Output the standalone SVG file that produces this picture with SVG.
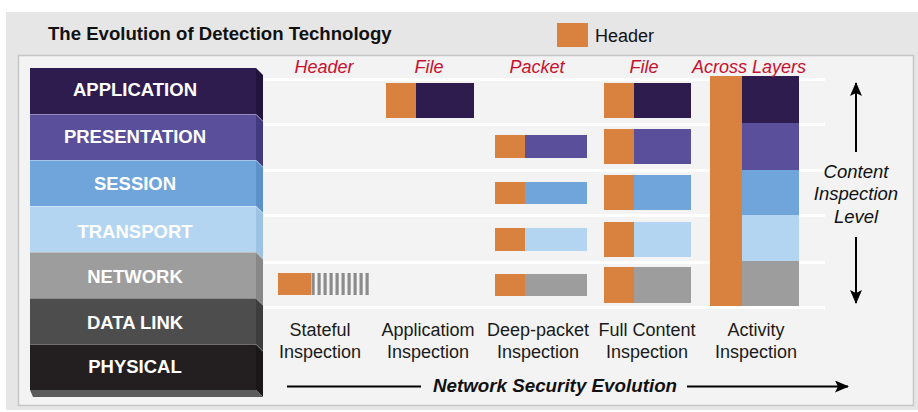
<svg xmlns="http://www.w3.org/2000/svg" width="918" height="412" viewBox="0 0 918 412">
  <defs>
    <style>
      .sans { font-family: "Liberation Sans", Arial, sans-serif; }
      .layer-label { font-family: "Liberation Sans", Arial, sans-serif; font-weight: bold; font-size: 18.5px; fill: #ffffff; text-anchor: middle; }
      .col-head { font-family: "Liberation Sans", Arial, sans-serif; font-style: italic; font-size: 18px; fill: #c8102e; text-anchor: middle; }
      .col-name { font-family: "Liberation Sans", Arial, sans-serif; font-size: 18px; fill: #1a1a1a; text-anchor: middle; }
      .edge-line { fill: none; stroke: rgba(255,255,255,0.35); stroke-width: 1; }
      .stripe { fill: #ffffff; }
      .hdr { fill: #d9823f; }
      .c-app { fill: #2e1c4f; }
      .c-pre { fill: #5a4f9b; }
      .c-ses { fill: #6fa5da; }
      .c-tra { fill: #b3d5f1; }
      .c-net { fill: #9d9d9d; }
      .arrow { stroke: #000000; stroke-width: 2; fill: none; }
    </style>
    <pattern id="hatch" x="311" y="0" width="6" height="10" patternUnits="userSpaceOnUse">
      <rect x="0" y="0" width="6" height="10" fill="#f4f4f4"/>
      <rect x="0.5" y="0" width="3.2" height="10" fill="#8c8c8c"/>
    </pattern>
    <marker id="head" viewBox="0 0 14 12" refX="13" refY="6" markerWidth="14" markerHeight="12" markerUnits="userSpaceOnUse" orient="auto">
      <path d="M0,0 L14,6 L0,12 L3,6 Z" fill="#000000"/>
    </marker>
  </defs>

  <!-- panel background -->
  <rect x="0" y="0" width="918" height="412" fill="#ffffff"/>
  <rect x="6" y="12" width="912" height="398" fill="#e7e6e7"/>
  <rect x="18.5" y="55.5" width="895" height="350" fill="#f3f3f3" stroke="#c6c6c6" stroke-width="1.5"/>

  <!-- title and legend -->
  <text class="sans" x="48" y="40" font-size="18.6" font-weight="bold" fill="#111111">The Evolution of Detection Technology</text>
  <g id="legend">
    <rect class="hdr" x="557" y="23" width="31" height="24"/>
    <text class="sans" x="595" y="42" font-size="18" fill="#111111">Header</text>
  </g>

  <!-- row stripes behind the inspection columns -->
  <g id="rows">
    <rect class="stripe" x="264" y="78" width="561" height="3"/>
    <rect class="stripe" x="264" y="123" width="561" height="3"/>
    <rect class="stripe" x="264" y="169" width="561" height="3"/>
    <rect class="stripe" x="264" y="214" width="561" height="3"/>
    <rect class="stripe" x="264" y="261" width="561" height="3"/>
    <rect class="stripe" x="264" y="306" width="561" height="3"/>
  </g>

  <!-- OSI layer stack -->
  <g id="layer-application">
    <rect x="30" y="68" width="226" height="46" fill="#2e1c4f"/>
    <polygon points="256,68 263,75 263,121 256,114" fill="#22143d"/>
    <text class="layer-label" x="135" y="96">APPLICATION</text>
  </g>
  <g id="layer-presentation">
    <rect x="30" y="114" width="226" height="46" fill="#5a4f9b"/>
    <polygon points="256,114 263,121 263,167 256,160" fill="#43397f"/>
    <path class="edge-line" d="M30,114.5 H256 L263,121.5"/>
    <text class="layer-label" x="135" y="143">PRESENTATION</text>
  </g>
  <g id="layer-session">
    <rect x="30" y="160" width="226" height="46" fill="#6fa5da"/>
    <polygon points="256,160 263,167 263,213 256,206" fill="#5b91c8"/>
    <path class="edge-line" d="M30,160.5 H256 L263,167.5"/>
    <text class="layer-label" x="135" y="190">SESSION</text>
  </g>
  <g id="layer-transport">
    <rect x="30" y="206" width="226" height="46" fill="#b3d5f1"/>
    <polygon points="256,206 263,213 263,259 256,252" fill="#9dc3e4"/>
    <path class="edge-line" d="M30,206.5 H256 L263,213.5"/>
    <text class="layer-label" x="135" y="238">TRANSPORT</text>
  </g>
  <g id="layer-network">
    <rect x="30" y="252" width="226" height="46" fill="#9d9d9d"/>
    <polygon points="256,252 263,259 263,305 256,298" fill="#878787"/>
    <path class="edge-line" d="M30,252.5 H256 L263,259.5"/>
    <text class="layer-label" x="135" y="283">NETWORK</text>
  </g>
  <g id="layer-datalink">
    <rect x="30" y="298" width="226" height="46" fill="#4d4d4d"/>
    <polygon points="256,298 263,305 263,351 256,344" fill="#3d3d3d"/>
    <path class="edge-line" d="M30,298.5 H256 L263,305.5"/>
    <text class="layer-label" x="135" y="329">DATA LINK</text>
  </g>
  <g id="layer-physical">
    <rect x="30" y="344" width="226" height="46" fill="#231f20"/>
    <polygon points="256,344 263,351 263,397 256,390" fill="#1a1718"/>
    <polygon points="30,390 256,390 263,397 33,397" fill="#5b5b5b"/>
    <path class="edge-line" d="M30,344.5 H256 L263,351.5"/>
    <text class="layer-label" x="135" y="373">PHYSICAL</text>
  </g>

  <!-- stateful inspection: header only -->
  <g id="col-stateful">
    <text class="col-head" x="324" y="73">Header</text>
    <rect class="hdr" x="278" y="273" width="33" height="22"/>
    <rect x="311" y="273" width="58" height="22" fill="url(#hatch)"/>
    <text class="col-name" x="320" y="336">Stateful</text>
    <text class="col-name" x="320" y="358">Inspection</text>
  </g>

  <!-- application inspection: file -->
  <g id="col-application">
    <text class="col-head" x="429" y="73">File</text>
    <rect class="hdr" x="386" y="83" width="30" height="35"/>
    <rect class="c-app" x="416" y="83" width="58" height="35"/>
    <text class="col-name" x="428" y="336">Applicatiom</text>
    <text class="col-name" x="428" y="358">Inspection</text>
  </g>

  <!-- deep-packet inspection -->
  <g id="col-deep-packet">
    <text class="col-head" x="537" y="73">Packet</text>
    <rect class="hdr" x="495" y="135" width="30" height="23"/>
    <rect class="c-pre" x="525" y="135" width="62" height="23"/>
    <rect class="hdr" x="495" y="182" width="30" height="22"/>
    <rect class="c-ses" x="525" y="182" width="62" height="22"/>
    <rect class="hdr" x="495" y="228" width="30" height="23"/>
    <rect class="c-tra" x="525" y="228" width="62" height="23"/>
    <rect class="hdr" x="495" y="274" width="30" height="22"/>
    <rect class="c-net" x="525" y="274" width="62" height="22"/>
    <text class="col-name" x="538" y="336">Deep-packet</text>
    <text class="col-name" x="538" y="358">Inspection</text>
  </g>

  <!-- full content inspection -->
  <g id="col-full-content">
    <text class="col-head" x="644" y="73">File</text>
    <rect class="hdr" x="604" y="83" width="30" height="35"/>
    <rect class="c-app" x="634" y="83" width="57" height="35"/>
    <rect class="hdr" x="604" y="129" width="30" height="35"/>
    <rect class="c-pre" x="634" y="129" width="57" height="35"/>
    <rect class="hdr" x="604" y="175" width="30" height="35"/>
    <rect class="c-ses" x="634" y="175" width="57" height="35"/>
    <rect class="hdr" x="604" y="222" width="30" height="35"/>
    <rect class="c-tra" x="634" y="222" width="57" height="35"/>
    <rect class="hdr" x="604" y="267" width="30" height="36"/>
    <rect class="c-net" x="634" y="267" width="57" height="36"/>
    <text class="col-name" x="647" y="336">Full Content</text>
    <text class="col-name" x="647" y="358">Inspection</text>
  </g>

  <!-- activity inspection: across layers -->
  <g id="col-activity">
    <rect class="hdr" x="710" y="76" width="32" height="230"/>
    <rect class="c-app" x="742" y="76" width="57" height="47"/>
    <rect class="c-pre" x="742" y="123" width="57" height="47"/>
    <rect class="c-ses" x="742" y="170" width="57" height="45"/>
    <rect class="c-tra" x="742" y="215" width="57" height="46"/>
    <rect class="c-net" x="742" y="261" width="57" height="45"/>
    <text class="col-head" x="749" y="73">Across Layers</text>
    <text class="col-name" x="756" y="336">Activity</text>
    <text class="col-name" x="756" y="358">Inspection</text>
  </g>

  <!-- axis labels -->
  <g id="axis-level">
    <text class="sans" x="856" y="178" font-size="18.5" font-style="italic" fill="#111111" text-anchor="middle">Content</text>
    <text class="sans" x="856" y="200" font-size="18.5" font-style="italic" fill="#111111" text-anchor="middle">Inspection</text>
    <text class="sans" x="856" y="223" font-size="18.5" font-style="italic" fill="#111111" text-anchor="middle">Level</text>
  </g>
  <g id="axis-evolution">
    <text class="sans" x="555" y="392" font-size="18.8" font-weight="bold" font-style="italic" fill="#111111" text-anchor="middle">Network Security Evolution</text>
  </g>

  <!-- connectors: axis arrows -->
  <g id="connectors">
    <line class="arrow" x1="856" y1="152" x2="856" y2="83" marker-end="url(#head)"/>
    <line class="arrow" x1="856" y1="237" x2="856" y2="303" marker-end="url(#head)"/>
    <line class="arrow" x1="287" y1="386.5" x2="421" y2="386.5"/>
    <line class="arrow" x1="687" y1="386.5" x2="848" y2="386.5" marker-end="url(#head)"/>
  </g>
</svg>
